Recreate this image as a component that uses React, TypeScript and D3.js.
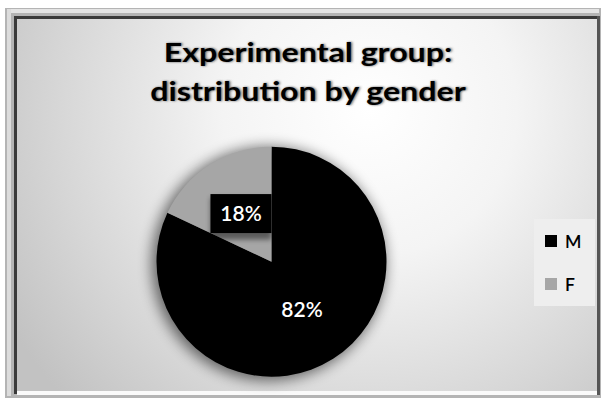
import React from "react";
import * as d3 from "d3";

const categories = ["M", "F"];
const values = [82, 18];
const valueLabels = ["82%", "18%"];
const sliceColors = ["#000000", "#a6a6a6"];
const titleLines = ["Experimental group:", "distribution by gender"];

const W = 603;
const H = 401;

export default function App() {
  const cx = 271.5;
  const cy = 261.7;
  const R = 115;
  const pie = d3.pie<number>().sort(null).value((d) => d);
  const arcs = pie(values);
  const arc = d3.arc<d3.PieArcDatum<number>>().innerRadius(0).outerRadius(R);
  const labelArc = d3.arc<d3.PieArcDatum<number>>().innerRadius(57).outerRadius(57);
  const color = d3.scaleOrdinal<string, string>().domain(categories).range(sliceColors);
  const legendY = d3.scalePoint<string>().domain(categories).range([241, 284]);

  return (
    <svg
      width={W}
      height={H}
      style={{ position: "absolute", left: 0, top: 0, fontFamily: "Lato, 'Open Sans', sans-serif" }}
    >
      <defs>
        <radialGradient id="bg" cx="370" cy="110" r="420" gradientUnits="userSpaceOnUse">
          <stop offset="0" stopColor="#ffffff" />
          <stop offset="0.35" stopColor="#f4f4f4" />
          <stop offset="0.75" stopColor="#d6d6d6" />
          <stop offset="1" stopColor="#c2c2c2" />
        </radialGradient>
        <filter id="pieShadow" x="-30%" y="-30%" width="160%" height="160%">
          <feGaussianBlur stdDeviation="7" />
        </filter>
        <filter id="boxShadow" x="-30%" y="-30%" width="160%" height="160%">
          <feGaussianBlur stdDeviation="2.5" />
        </filter>
        <filter id="titleShadow" x="-10%" y="-30%" width="120%" height="160%">
          <feGaussianBlur stdDeviation="1.2" />
        </filter>
      </defs>
      <rect x={0} y={0} width={W} height={H} fill="#ffffff" />
      {/* frame */}
      <rect x={5} y={8} width={596} height={390} fill="#b4b4b4" />
      <rect x={7} y={9} width={592} height={4} fill="#e4e4e4" />
      <rect x={7} y={9} width={4} height={387} fill="#dcdcdc" />
      <rect x={14} y={16} width={586} height={378} fill="#3a3a3a" />
      <rect x={17} y={19} width={580} height={372} fill="url(#bg)" />
      <rect x={17} y={391} width={582} height={4} fill="#fafafa" />
      <rect x={597} y={16} width={3} height={379} fill="#555555" />

      {/* title */}
      <g fontWeight="bold" fontSize={27.5} textAnchor="middle" transform="translate(308,0) scale(1.17,1)">
        {titleLines.map((t, i) => (
          <text key={"s" + i} x={1} y={62 + i * 39} fill="#555" filter="url(#titleShadow)">
            {t}
          </text>
        ))}
        {titleLines.map((t, i) => (
          <text key={i} x={0} y={62 + i * 39} fill="#000">
            {t}
          </text>
        ))}
      </g>

      {/* pie shadow */}
      <circle cx={cx - 3} cy={cy + 2} r={R + 2} fill="#000" opacity={0.55} filter="url(#pieShadow)" />

      <g transform={`translate(${cx},${cy})`}>
        {arcs.map((a, i) => (
          <path key={i} d={arc(a) || ""} fill={color(categories[i])} />
        ))}
        {arcs.map((a, i) => {
          const [lx, ly] = labelArc.centroid(a);
          return (
            <g key={"l" + i}>
              <rect x={lx - 30.5} y={ly - 16} width={61} height={42} fill="#000" opacity={0.45} filter="url(#boxShadow)" />
              <rect x={lx - 30.5} y={ly - 19.5} width={61} height={39} fill="#000" />
              <text x={lx} y={ly + 7.5} textAnchor="middle" fontSize={21} fontWeight={600} fill="#ffffff">
                {valueLabels[i]}
              </text>
            </g>
          );
        })}
      </g>

      {/* legend */}
      <rect x={534} y={219} width={61} height={87} fill="#eeeeee" />
      {categories.map((c) => (
        <g key={c}>
          <rect x={545} y={(legendY(c) as number) - 6} width={12} height={12} fill={color(c)} />
          <text x={565} y={(legendY(c) as number) + 6.5} fontSize={17.5} fontWeight={600} fill="#000">
            {c}
          </text>
        </g>
      ))}
    </svg>
  );
}
